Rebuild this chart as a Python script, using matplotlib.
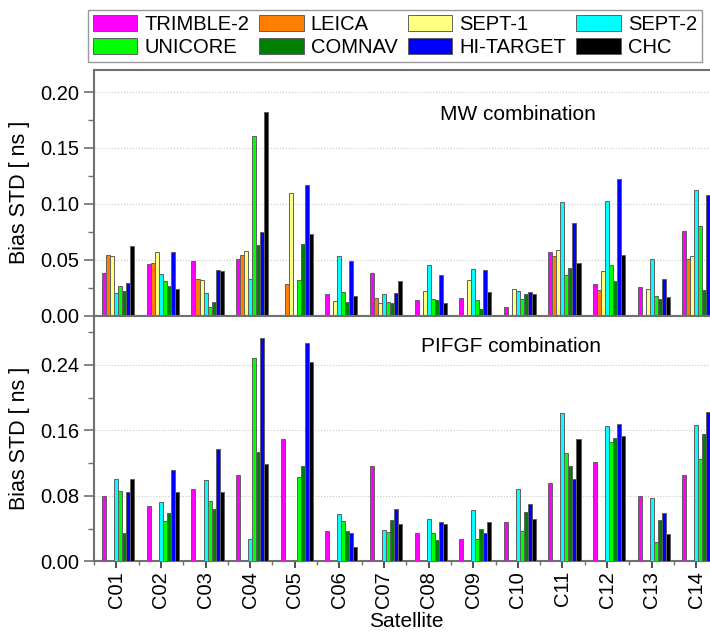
import numpy as np
import matplotlib.pyplot as plt
from matplotlib.ticker import MultipleLocator

plt.rcParams['font.family'] = ['Liberation Sans', 'DejaVu Sans']

nan = np.nan

satellites = ['C01', 'C02', 'C03', 'C04', 'C05', 'C06', 'C07',
              'C08', 'C09', 'C10', 'C11', 'C12', 'C13', 'C14']
receivers = ['TRIMBLE-2', 'LEICA', 'SEPT-1', 'SEPT-2',
             'UNICORE', 'COMNAV', 'HI-TARGET', 'CHC']
colors = ['#FF00FF', '#FF8000', '#FFFF80', '#00FFFF',
          '#00FF00', '#008000', '#0000FF', '#000000']

# MW 组合偏差标准差 (ns)，C01..C14
mw_trimble2 = [0.038, 0.046, 0.049, 0.051, nan, 0.019, 0.038, 0.014, 0.016, 0.0074, 0.057, 0.028, 0.026, 0.076]
mw_leica = [0.054, 0.047, 0.033, 0.054, 0.028, nan, 0.016, nan, nan, nan, 0.053, 0.023, nan, 0.051]
mw_sept1 = [0.053, 0.057, 0.032, 0.058, 0.110, 0.013, 0.011, 0.022, 0.032, 0.0235, 0.059, 0.040, 0.0235, 0.053]
mw_sept2 = [0.020, 0.037, 0.020, 0.033, nan, 0.053, 0.019, 0.045, 0.042, 0.022, 0.102, 0.103, 0.051, 0.112]
mw_unicore = [0.027, 0.031, 0.0074, 0.161, 0.032, 0.021, 0.012, 0.015, 0.014, 0.0146, 0.036, 0.045, 0.018, 0.080]
mw_comnav = [0.022, 0.027, 0.012, 0.063, 0.064, 0.012, 0.011, 0.014, 0.006, 0.019, 0.043, 0.031, 0.015, 0.023]
mw_hitarget = [0.029, 0.057, 0.041, 0.075, 0.117, 0.049, 0.020, 0.036, 0.041, 0.021, 0.083, 0.122, 0.033, 0.108]
mw_chc = [0.062, 0.024, 0.040, 0.182, 0.073, 0.018, 0.031, 0.011, 0.021, 0.019, 0.047, 0.054, 0.017, nan]

# PIFGF 组合偏差标准差 (ns)
pifgf_trimble2 = [0.080, 0.067, 0.088, 0.105, 0.150, 0.037, 0.1165, 0.035, 0.027, 0.048, 0.096, 0.121, 0.080, 0.105]
pifgf_leica = [nan] * 14
pifgf_sept1 = [nan] * 14
pifgf_sept2 = [0.101, 0.072, 0.099, 0.027, nan, 0.058, 0.038, 0.052, 0.063, 0.088, 0.181, 0.165, 0.077, 0.167]
pifgf_unicore = [0.086, 0.049, 0.074, 0.248, 0.1035, 0.049, 0.036, 0.035, 0.027, 0.037, 0.132, 0.1455, 0.023, 0.125]
pifgf_comnav = [0.035, 0.059, 0.064, 0.133, 0.1165, 0.037, 0.0505, 0.026, 0.039, 0.060, 0.1165, 0.151, 0.0505, 0.156]
pifgf_hitarget = [0.085, 0.112, 0.137, 0.273, 0.267, 0.035, 0.064, 0.048, 0.034, 0.0705, 0.101, 0.168, 0.0587, 0.182]
pifgf_chc = [0.100, 0.085, 0.085, 0.119, 0.244, 0.0175, 0.0456, 0.045, 0.048, 0.052, 0.150, 0.153, 0.0334, nan]

mw = [mw_trimble2, mw_leica, mw_sept1, mw_sept2, mw_unicore, mw_comnav, mw_hitarget, mw_chc]
pifgf = [pifgf_trimble2, pifgf_leica, pifgf_sept1, pifgf_sept2,
         pifgf_unicore, pifgf_comnav, pifgf_hitarget, pifgf_chc]

x = np.arange(1, len(satellites) + 1)
w = 0.09
spine_c = '#707070'

fig = plt.figure(figsize=(7.1, 6.37), dpi=100)
ax1 = fig.add_axes([0.1324, 0.5044, 0.8797, 0.3862])
ax2 = fig.add_axes([0.1324, 0.1188, 0.8797, 0.3856])


def draw_panel(ax, data, ymax, minor):
    for k, vals in enumerate(data):
        ax.bar(x + (k - 3.5) * w + 0.045, vals, width=w, color=colors[k],
               edgecolor='#606060', linewidth=0.7, label=receivers[k], zorder=3)
    ax.set_xlim(0.5, 14.5)
    ax.set_ylim(0, ymax)
    ax.yaxis.set_minor_locator(MultipleLocator(minor))
    ax.set_xticks(x)
    ax.set_xticks(np.arange(0.5, 15, 1.0), minor=True)
    ax.grid(axis='y', which='major', color='#c8c8c8', linestyle=':', linewidth=0.8, zorder=0)
    ax.tick_params(axis='y', which='major', direction='out', length=7, width=1.2,
                   color=spine_c, labelsize=14.5)
    ax.tick_params(axis='y', which='minor', direction='out', length=4, width=1.0, color=spine_c)
    ax.tick_params(axis='x', which='major', direction='out', length=5, width=1.2,
                   color='#303030', pad=2)
    ax.tick_params(axis='x', which='minor', direction='out', length=3, width=1.0, color=spine_c)
    for s in ax.spines.values():
        s.set_color(spine_c)
        s.set_linewidth(1.5)
    ax.yaxis.set_major_formatter(plt.FormatStrFormatter('%.2f'))
    ax.set_ylabel('Bias STD [ ns ]', fontsize=15.5)
    ax.yaxis.set_label_coords(-0.103, 0.5)


draw_panel(ax1, mw, 0.22, 0.025)
draw_panel(ax2, pifgf, 0.30, 0.04)

ax1.set_yticks([0.00, 0.05, 0.10, 0.15, 0.20])
ax2.set_yticks([0.00, 0.08, 0.16, 0.24])
ax1.tick_params(axis='x', labelbottom=False)
ax2.set_xticklabels(satellites, rotation=90, fontsize=14.5)
ax2.set_xlabel('Satellite', fontsize=15, labelpad=3)

ax1.text(8.26, 0.175, 'MW combination', fontsize=15, ha='left', va='baseline')
ax2.text(7.84, 0.256, 'PIFGF combination', fontsize=15, ha='left', va='baseline')

# 图例按行排列：ncol=4 时按列填充，所以先重排顺序
handles, labels = ax1.get_legend_handles_labels()
order = [0, 4, 1, 5, 2, 6, 3, 7]
leg = fig.legend([handles[i] for i in order], [labels[i] for i in order], ncol=4,
                 loc='lower left',
                 bbox_to_anchor=(87.7 / 710, 1 - 62.3 / 637, (702 - 87.7) / 710, 51.6 / 637),
                 mode='expand', fontsize=14.5, frameon=True, fancybox=False,
                 handlelength=2.2, handleheight=0.85, handletextpad=0.35,
                 labelspacing=0.2, borderpad=0.25, borderaxespad=0, columnspacing=0.4)
leg.get_frame().set_edgecolor('#808080')
leg.get_frame().set_linewidth(1.0)

fig.savefig('out.png', dpi=100)
